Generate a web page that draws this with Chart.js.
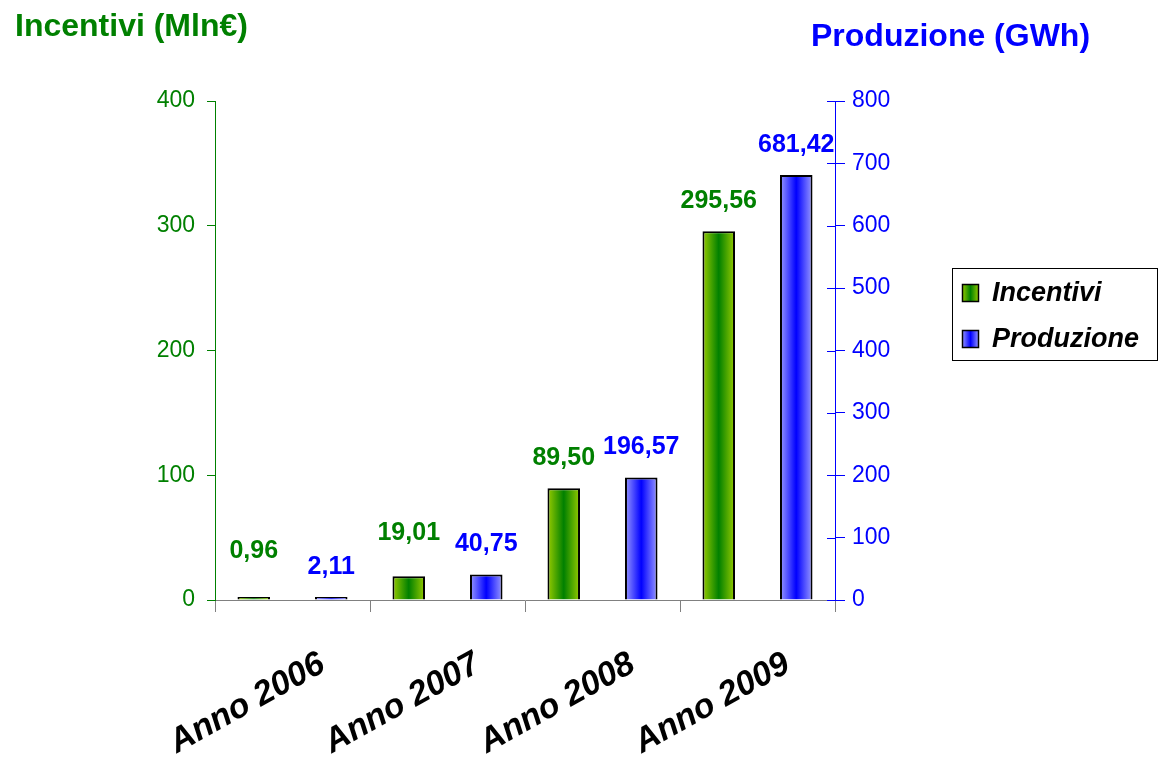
<!DOCTYPE html>
<html lang="it">
<head>
<meta charset="utf-8">
<title>Incentivi e Produzione</title>
<script src="https://cdn.jsdelivr.net/npm/chart.js@4.4.1/dist/chart.umd.min.js"></script>
<style>
  html, body { margin: 0; padding: 0; background: #fff; }
</style>
</head>
<body>
<canvas id="grafico" width="1160" height="762"></canvas>
<script>
// ================= DATI =================
const anni = ["Anno 2006", "Anno 2007", "Anno 2008", "Anno 2009"];
const incentivi = [0.96, 19.01, 89.50, 295.56];    // Mln€
const produzione = [2.11, 40.75, 196.57, 681.42];  // GWh
const tickIncentivi = [0, 100, 200, 300, 400];
const tickProduzione = [0, 100, 200, 300, 400, 500, 600, 700, 800];

// ================= CONFIG =================
const FONT = '"Liberation Sans", Arial, sans-serif';
const VERDE = "#008000";
const BLU = "#0000ff";
const CAT_PCT = 1.0;
const BAR_PCT = 0.42;

const ctx = document.getElementById("grafico").getContext("2d");

// gradiente "cilindro" orizzontale sulla barra
function cilindro(bordo, centro) {
  return (c) => {
    const x = c.chart.scales.x;
    if (!x || c.dataIndex == null || !x.width) return centro;
    const slot = (x.width / anni.length) * CAT_PCT / 2;
    const w = slot * BAR_PCT;
    const mid = x.getPixelForValue(c.dataIndex) + (c.datasetIndex === 0 ? -1 : 1) * slot / 2;
    const g = c.chart.ctx.createLinearGradient(mid - w / 2, 0, mid + w / 2, 0);
    g.addColorStop(0, bordo);
    g.addColorStop(0.5, centro);
    g.addColorStop(1, bordo);
    return g;
  };
}

const formatta = v => v.toFixed(2).replace(".", ",");

// ================= PLUGIN =================
const decorazioni = {
  id: "decorazioni",
  afterDraw(chart, args, opts) {
    const c = chart.ctx;
    c.save();

    // titoli degli assi
    c.textBaseline = "middle";
    c.textAlign = "left";
    c.font = "bold 32px " + FONT;
    c.fillStyle = VERDE;
    c.fillText("Incentivi (Mln€)", 15, 27);
    c.fillStyle = BLU;
    c.fillText("Produzione (GWh)", 811, 37);

    // tacche interne asse destro
    const y1 = chart.scales.y1;
    c.strokeStyle = BLU;
    c.lineWidth = 1;
    y1.ticks.forEach(t => {
      const py = Math.round(y1.getPixelForValue(t.value)) + 0.5;
      c.beginPath();
      c.moveTo(y1.left - 8, py);
      c.lineTo(y1.left, py);
      c.stroke();
    });

    // etichette valori
    c.font = "bold 25px " + FONT;
    c.textAlign = "center";
    chart.data.datasets.forEach((ds, di) => {
      const meta = chart.getDatasetMeta(di);
      const lift = opts.lift[di] || [];
      meta.data.forEach((bar, i) => {
        c.fillStyle = ds.coloreTesto;
        c.fillText(formatta(ds.data[i]), bar.x, bar.y - 30 - (lift[i] || 0));
      });
    });

    // legenda
    c.strokeStyle = "#000";
    c.lineWidth = 1;
    c.strokeRect(952.5, 268.5, 205, 92);
    c.font = "italic bold 27px " + FONT;
    c.textAlign = "left";
    chart.data.datasets.forEach((ds, di) => {
      const cy = 293 + di * 46;
      const g = c.createLinearGradient(962, 0, 979, 0);
      g.addColorStop(0, ds.bordoGrad);
      g.addColorStop(0.5, ds.centroGrad);
      g.addColorStop(1, ds.bordoGrad);
      c.fillStyle = g;
      c.fillRect(962, cy - 9, 17, 18);
      c.lineWidth = 1.5;
      c.strokeRect(962.5, cy - 8.5, 16, 17);
      c.fillStyle = "#000";
      c.fillText(ds.label, 992, cy + 1);
    });

    c.restore();
  }
};

// ================= GRAFICO =================
const grafico = new Chart(ctx, {
  type: "bar",
  data: {
    labels: anni,
    datasets: [{
      label: "Incentivi",
      data: incentivi,
      yAxisID: "y",
      backgroundColor: cilindro("#99cc00", "#008000"),
      bordoGrad: "#99cc00",
      centroGrad: "#008000",
      coloreTesto: VERDE,
      borderColor: "#000",
      borderWidth: 2,
      minBarLength: 3,
      categoryPercentage: CAT_PCT,
      barPercentage: BAR_PCT
    }, {
      label: "Produzione",
      data: produzione,
      yAxisID: "y1",
      backgroundColor: cilindro("#9999ff", "#0000ff"),
      bordoGrad: "#9999ff",
      centroGrad: "#0000ff",
      coloreTesto: BLU,
      borderColor: "#000",
      borderWidth: 2,
      minBarLength: 3,
      categoryPercentage: CAT_PCT,
      barPercentage: BAR_PCT
    }]
  },
  options: {
    responsive: false,
    animation: false,
    layout: { padding: { top: 101, left: 0, right: 0, bottom: 0 } },
    plugins: {
      legend: { display: false },
      tooltip: { enabled: false },
      decorazioni: { lift: [[16, 13, 0, 0], []] }
    },
    scales: {
      x: {
        grid: { offset: true, drawOnChartArea: false, tickLength: 12, color: "#808080" },
        border: { color: "#808080" },
        ticks: {
          color: "#000",
          font: { family: FONT, size: 34, weight: "bold", style: "italic" },
          minRotation: 29,
          maxRotation: 29,
          labelOffset: 30,
          padding: 32
        },
        afterFit: s => { s.height = 162; }
      },
      y: {
        position: "left",
        min: tickIncentivi[0],
        max: tickIncentivi[tickIncentivi.length - 1],
        ticks: {
          stepSize: tickIncentivi[1] - tickIncentivi[0],
          color: VERDE,
          padding: 12,
          font: { family: FONT, size: 23 }
        },
        grid: { drawOnChartArea: false, tickLength: 8, color: VERDE },
        border: { color: VERDE },
        afterFit: s => { s.width = 215; }
      },
      y1: {
        position: "right",
        min: tickProduzione[0],
        max: tickProduzione[tickProduzione.length - 1],
        ticks: {
          stepSize: tickProduzione[1] - tickProduzione[0],
          color: BLU,
          padding: 7,
          font: { family: FONT, size: 23 }
        },
        grid: { drawOnChartArea: false, tickLength: 10, color: BLU },
        border: { color: BLU },
        afterFit: s => { s.width = 325; }
      }
    }
  },
  plugins: [decorazioni]
});
</script>
</body>
</html>
